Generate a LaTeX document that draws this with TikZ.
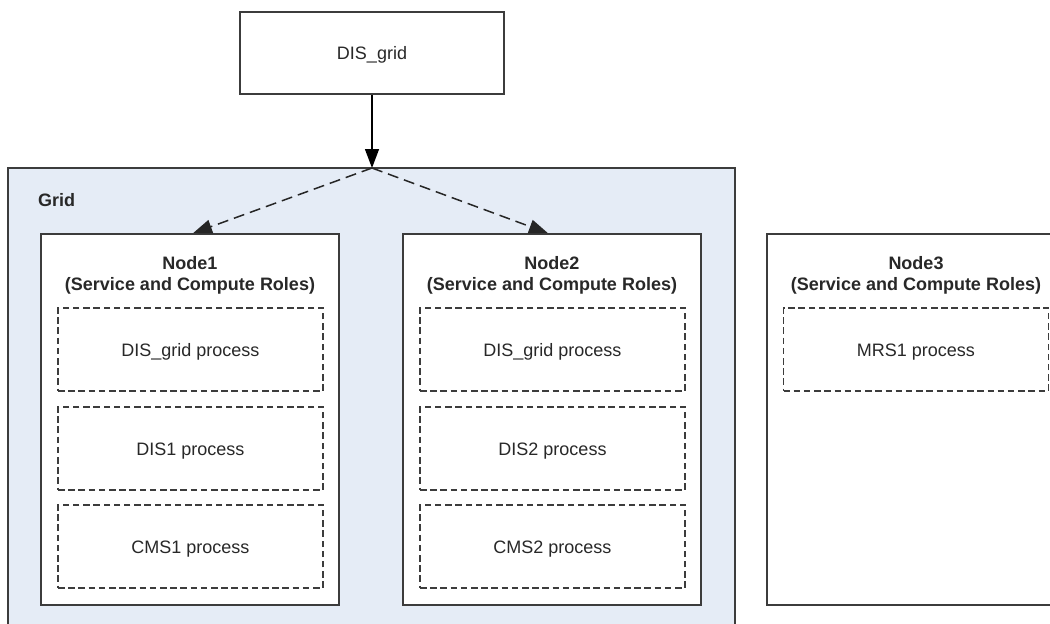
\documentclass[tikz,border=0pt]{standalone}
\usepackage{fontspec}
\setmainfont{Liberation Sans}
\usetikzlibrary{arrows.meta}
\definecolor{gridfill}{RGB}{229,236,246}
\definecolor{edge}{RGB}{60,60,60}
\definecolor{txt}{RGB}{40,40,40}
\tikzset{
  solidbox/.style={draw=edge, line width=1.6pt, fill=white, rectangle, inner sep=0pt},
  procbox/.style={draw=edge, line width=1.4pt, dash pattern=on 6.5pt off 3.7pt, fill=white, rectangle, inner sep=0pt,
     minimum width=265pt, minimum height=83pt, text=txt, font=\fontsize{18}{22}\selectfont, text height=13pt, text depth=0pt},
  titletext/.style={align=center, inner sep=0pt, font=\fontsize{18}{21.5}\selectfont\bfseries, text=txt},
  plaintext/.style={inner sep=0pt, text=txt, font=\fontsize{18}{22}\selectfont, text height=13pt, text depth=0pt},
  solidarrow/.style={draw=black, line width=1.4pt, -{Triangle[length=19pt,width=14pt]}},
  dasharrow/.style={draw=black!85, line width=1.5pt, dash pattern=on 11pt off 6pt, -{Triangle[length=19pt,width=14pt]}}
}
\begin{document}
\begin{tikzpicture}[x=1pt, y=-1pt]
\useasboundingbox (0,0) rectangle (1050,624);
\clip (0,0) rectangle (1050,624);
% Grid container
\draw[edge, line width=1.6pt, fill=gridfill] (8,168) rectangle (735,660);
\node[plaintext, font=\fontsize{18}{22}\selectfont\bfseries, anchor=west] (gridlabel) at (38,199.5) {Grid};
% Top box
\node[solidbox, minimum width=264pt, minimum height=82pt, plaintext, draw=edge, line width=1.6pt] (dis) at (372,53) {DIS\_grid};
\coordinate (split) at (372,168);
% Node boxes
\node[solidbox, minimum width=298pt, minimum height=371pt] (n1) at (190,419.5) {};
\node[solidbox, minimum width=298pt, minimum height=371pt] (n2) at (552,419.5) {};
\node[solidbox, minimum width=298pt, minimum height=371pt] (n3) at (916,419.5) {};
\node[titletext] (n1t) at (190,275.5) {Node1\\(Service and Compute Roles)};
\node[titletext] (n2t) at (552,275.5) {Node2\\(Service and Compute Roles)};
\node[titletext] (n3t) at (916,275.5) {Node3\\(Service and Compute Roles)};
% Process boxes
\node[procbox] (p11) at (190.5,349.5) {DIS\_grid process};
\node[procbox] (p12) at (190.5,448.5) {DIS1 process};
\node[procbox] (p13) at (190.5,546.5) {CMS1 process};
\node[procbox] (p21) at (552.5,349.5) {DIS\_grid process};
\node[procbox] (p22) at (552.5,448.5) {DIS2 process};
\node[procbox] (p23) at (552.5,546.5) {CMS2 process};
\node[procbox] (p31) at (916,349.5) {MRS1 process};
% Connectors
\draw[solidarrow] (dis.south) -- (split);
\draw[dasharrow] (split) -- ([xshift=3pt]n1.north);
\draw[dasharrow] (split) -- ([xshift=-4pt]n2.north);
\end{tikzpicture}
\end{document}
